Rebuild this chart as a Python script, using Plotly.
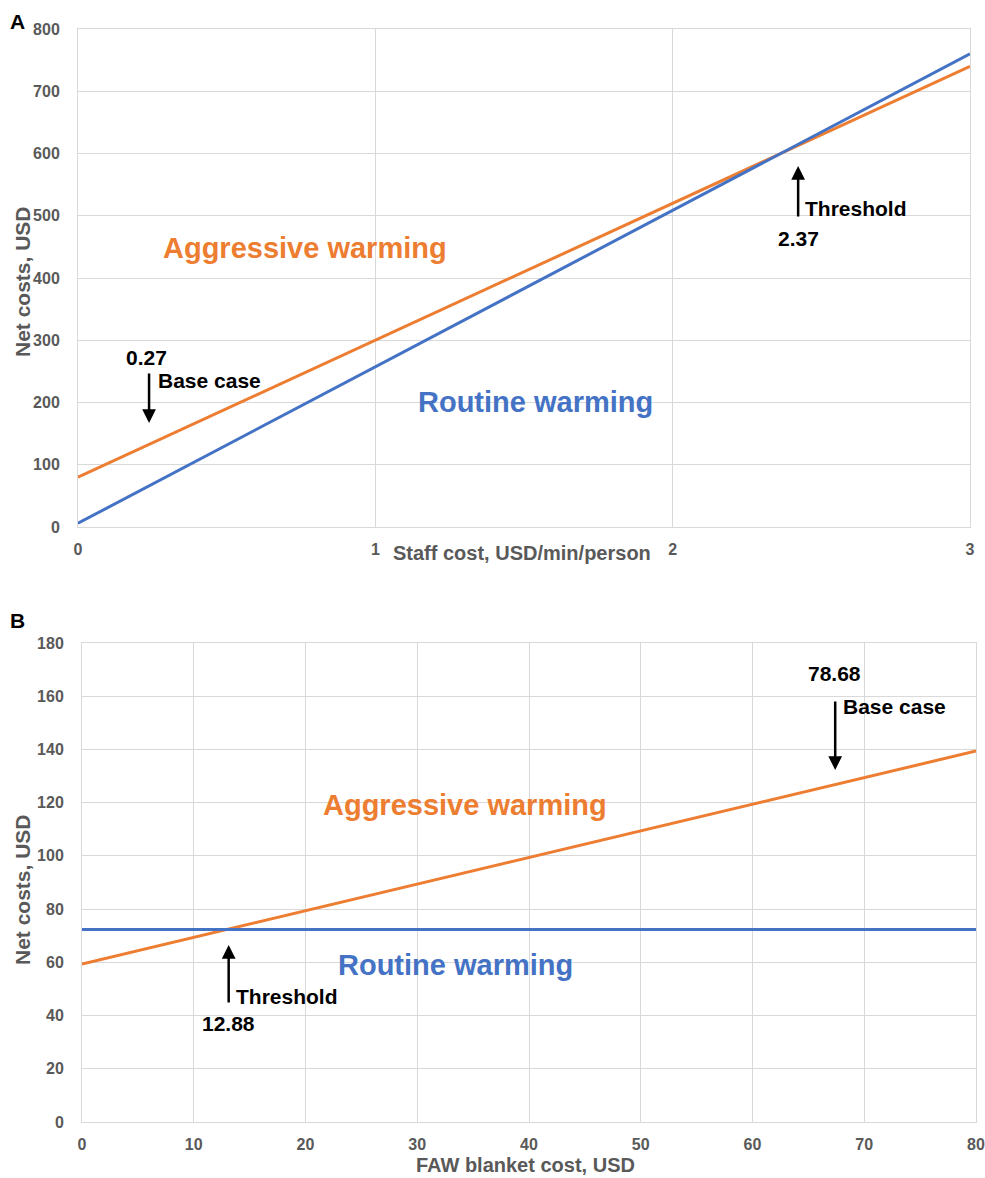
import plotly.graph_objects as go

# ---- Data ----
# Panel A: staff cost sensitivity
staff_cost = [0, 3]
a_aggressive = [80, 740]
a_routine = [6, 760]
a_xticks = [0, 1, 2, 3]
a_yticks = [0, 100, 200, 300, 400, 500, 600, 700, 800]

# Panel B: FAW blanket cost sensitivity
blanket_cost = [0, 80]
b_aggressive = [59.4, 139.4]
b_routine = [72.3, 72.3]
b_xticks = [0, 10, 20, 30, 40, 50, 60, 70, 80]
b_yticks = [0, 20, 40, 60, 80, 100, 120, 140, 160, 180]

ORANGE = "#ED7D31"
BLUE = "#4472C4"
GRID = "#d9d9d9"
TICKC = "#595959"
FONT = "Liberation Sans"

W, H = 985, 1178

def px(xp):
    return xp / W

def py(yp):
    return 1 - yp / H

fig = go.Figure()
fig.add_trace(go.Scatter(x=staff_cost, y=a_aggressive, mode="lines",
                         line=dict(color=ORANGE, width=3), xaxis="x", yaxis="y"))
fig.add_trace(go.Scatter(x=staff_cost, y=a_routine, mode="lines",
                         line=dict(color=BLUE, width=3), xaxis="x", yaxis="y"))
fig.add_trace(go.Scatter(x=blanket_cost, y=b_aggressive, mode="lines",
                         line=dict(color=ORANGE, width=3), xaxis="x2", yaxis="y2"))
fig.add_trace(go.Scatter(x=blanket_cost, y=b_routine, mode="lines",
                         line=dict(color=BLUE, width=3), xaxis="x2", yaxis="y2"))

tickfont = dict(family=FONT, size=16, color=TICKC, weight="bold")
common = dict(showgrid=True, gridcolor=GRID, gridwidth=1, zeroline=False,
              showline=True, linecolor=GRID, linewidth=1, mirror=True,
              tickfont=tickfont, ticks="", fixedrange=True, automargin=False,
              ticklabeloverflow="allow")

fig.update_layout(
    template="none",
    width=W, height=H,
    margin=dict(l=0, r=0, t=0, b=0, autoexpand=False),
    paper_bgcolor="white", plot_bgcolor="white",
    showlegend=False,
    xaxis=dict(domain=[px(78), px(970)], range=[0, 3], tickvals=a_xticks,
               anchor="y", ticklabelstandoff=8, **common),
    yaxis=dict(domain=[py(527), py(29)], range=[0, 800], tickvals=a_yticks,
               anchor="x", ticklabelstandoff=14, **common),
    xaxis2=dict(domain=[px(82), px(976)], range=[0, 80], tickvals=b_xticks,
                anchor="y2", ticklabelstandoff=8, **common),
    yaxis2=dict(domain=[py(1122), py(643)], range=[0, 180], tickvals=b_yticks,
                anchor="x2", ticklabelstandoff=14, **common),
)

ann = []
def txt(text, x, y, xref, yref, size=21, color="black", xanchor="center", **kw):
    ann.append(dict(text=text, x=x, y=y, xref=xref, yref=yref, showarrow=False,
                    xanchor=xanchor, yanchor="middle",
                    font=dict(family=FONT, size=size, color=color, weight="bold"), **kw))

def arrow(x, y, xref, yref, ay):
    ann.append(dict(text="", x=x, y=y, xref=xref, yref=yref, showarrow=True,
                    ax=0, ay=ay, arrowhead=2, arrowsize=1.1, arrowwidth=2.5,
                    arrowcolor="black"))

# Panel letters
txt("A", px(17), py(22), "paper", "paper", size=21)
txt("B", px(17), py(620), "paper", "paper", size=21)

# Axis titles
txt("Staff cost, USD/min/person", px(522), py(553), "paper", "paper", size=20, color=TICKC)
txt("FAW blanket cost, USD", px(525), py(1165), "paper", "paper", size=20, color=TICKC)
txt("Net costs, USD", px(22), py(282), "paper", "paper", size=21, color=TICKC, textangle=-90)
txt("Net costs, USD", px(22), py(890), "paper", "paper", size=21, color=TICKC, textangle=-90)

# Panel A labels
txt("Aggressive warming", 0.764, 448, "x", "y", size=29, color=ORANGE)
txt("Routine warming", 1.54, 201, "x", "y", size=29, color=BLUE)
txt("0.27", 0.232, 273, "x", "y")
txt("Base case", 0.262, 236, "x", "y", xanchor="left")
arrow(0.239, 167, "x", "y", -51)
txt("Threshold", 2.44, 511, "x", "y", xanchor="left")
txt("2.37", 2.422, 464, "x", "y")
arrow(2.422, 580, "x", "y", 52)

# Panel B labels
txt("Aggressive warming", 34.3, 119, "x2", "y2", size=29, color=ORANGE)
txt("Routine warming", 33.4, 59, "x2", "y2", size=29, color=BLUE)
txt("Threshold", 13.6, 47, "x2", "y2", xanchor="left")
txt("12.88", 13.1, 37.2, "x2", "y2")
arrow(13.125, 66.5, "x2", "y2", 59)
txt("78.68", 67.3, 168.7, "x2", "y2")
txt("Base case", 67.9, 156, "x2", "y2", xanchor="left")
arrow(67.4, 132.3, "x2", "y2", -70)

fig.update_layout(annotations=ann)
fig.write_html(
    "out.html",
    config={"displayModeBar": False, "staticPlot": True},
    post_script="document.body.style.margin='0';document.body.style.overflow='hidden';",
)
